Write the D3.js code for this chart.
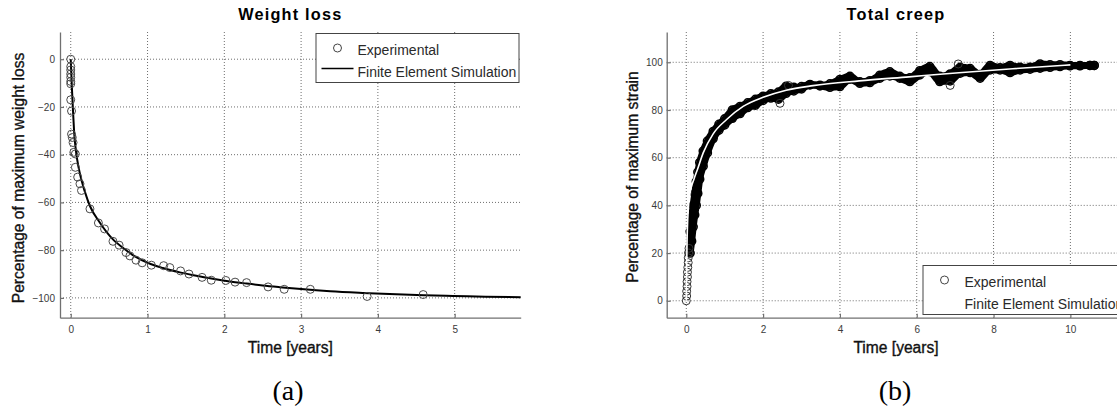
<!DOCTYPE html>
<html>
<head>
<meta charset="utf-8">
<script src="https://cdn.jsdelivr.net/npm/d3@7"></script>
<style>
body { margin: 0; background: #fff; }
svg { display: block; font-family: "Liberation Sans", Arial, sans-serif; }
</style>
</head>
<body>
<div id="chart"></div>
<script>
'use strict';

// ---------- (a) weight loss ----------
var weightExpT = [0, 0, 0, 0, 0, 0, 0, 0, 0.01, 0.01, 0.02, 0.03, 0.04, 0.06, 0.06, 0.09, 0.12, 0.14,
                  0.25, 0.36, 0.44, 0.55, 0.63, 0.72, 0.77, 0.85, 0.93, 1.05, 1.21, 1.29, 1.43, 1.54,
                  1.71, 1.83, 2.02, 2.14, 2.29, 2.57, 2.78, 3.12, 3.86, 4.59];
var weightExpV = [0, -3.1, -4.5, -6.2, -7.6, -9.3, -10.3, -17, -21.7, -31.4, -32.8, -34.9, -39, -39.7, -45.3, -49.4, -52.2, -55,
                  -62.7, -68.6, -71.1, -76.3, -77.9, -81, -82.4, -84.2, -85.3, -86.3, -86.5, -87.3, -88.7, -90,
                  -91.4, -92.6, -92.7, -93.4, -93.6, -95.4, -96.4, -96.4, -99.4, -98.6];
var weightSimT = [0, 0.015, 0.03, 0.045, 0.07, 0.1, 0.143, 0.216, 0.25, 0.38, 0.55, 0.7, 0.83, 1.04, 1.2,
                  1.42, 1.6, 1.85, 2.05, 2.29, 2.5, 2.72, 3.0, 3.38, 3.8, 4.24, 4.6, 4.98, 5.4, 5.86];
var weightSimV = [0, -12, -22, -31, -39, -45, -51, -58.6, -61.5, -68.5, -75.5, -79.5, -82.5, -85.8, -87.5,
                  -89.3, -90.5, -92, -93, -94, -94.8, -95.5, -96.3, -97.2, -97.9, -98.5, -98.9, -99.2, -99.5, -99.7];
var weightTicksX = [0, 1, 2, 3, 4, 5];
var weightTicksY = [-100, -80, -60, -40, -20, 0];

// ---------- (b) total creep ----------
var creepStartT = [0, 0.01, 0.01, 0.02, 0.02, 0.03, 0.03, 0.04, 0.05, 0.05, 0.06, 0.07];
var creepStartV = [0, 2, 4, 6, 8, 10, 12, 14, 16, 18, 20, 22];
var creepBandT  = [0.1, 0.14, 0.18, 0.22, 0.26, 0.3, 0.35, 0.44, 0.55, 0.7, 0.85, 1.0, 1.2, 1.4, 1.6, 1.8, 2.0,
                   2.2, 2.4, 2.6, 2.8, 3.0, 3.22, 3.48, 3.74, 4.0, 4.26, 4.52, 4.78, 5.04, 5.3, 5.56, 5.82, 6.08,
                   6.34, 6.6, 6.87, 7.13, 7.39, 7.65, 7.91, 8.17, 8.43, 8.69, 8.95, 9.21, 9.47, 9.73, 9.99,
                   10.25, 10.51, 10.62];
var creepBandHi = [29, 35, 40, 45, 50, 54, 58, 62.8, 67, 71, 74, 76.3, 80, 81.5, 83, 84.5, 85.8,
                   86.8, 87.5, 90, 89.5, 89.8, 90.7, 90.4, 91.0, 92.8, 94.1, 91.8, 92.3, 94.6, 96.0, 94.1, 93.5, 96.5,
                   98.2, 94.1, 95.1, 97.9, 97.4, 94.9, 98.7, 97.7, 98.7, 97.9, 97.9, 99.3, 99.0, 99.0, 98.7,
                   98.7, 98.7, 98.7];
var creepBandLo = [20, 25, 31, 36, 40, 45, 51, 56.4, 62, 68, 71.5, 73.7, 76.5, 78.5, 81, 82, 84,
                   85, 84.5, 87, 88, 88.8, 90.5, 90.1, 89.5, 89.8, 92.9, 91.2, 91.5, 93.3, 94.3, 93.3, 91.9, 94.7,
                   96.1, 91.9, 92.2, 95.4, 95.7, 93.3, 96.8, 96.8, 95.7, 96.8, 97.1, 97.5, 97.9, 98.2, 98.5,
                   98.5, 98.7, 98.7];
var creepOutT = [2.44, 2.66, 6.87, 7.08];
var creepOutV = [82.8, 90.3, 90.3, 99.3];
var creepSimT = [0, 0.01, 0.02, 0.04, 0.07, 0.12, 0.2, 0.3, 0.44, 0.7, 1.05, 1.48, 2.0, 2.6, 3.3,
                 4.5, 5.8, 7.1, 8.5, 10.0];
var creepSimV = [0, 15, 25, 35, 42, 47, 51, 55.5, 62, 70, 76, 81.5, 85.3, 88.3, 90.2,
                 92.2, 93.9, 95.6, 97.3, 98.9];
var creepTicksX = [0, 2, 4, 6, 8, 10];
var creepTicksY = [0, 20, 40, 60, 80, 100];

var legendNames = ['Experimental', 'Finite Element Simulation'];

function pairs(ts, vs) {
    return ts.map(function(t, i) { return {t: t, v: vs[i]}; });
}

var svg = d3.select('#chart').append('svg')
    .attr('width', 1117)
    .attr('height', 408);

function drawFrame(p)
{
    var x = d3.scaleLinear().domain(p.xDomain).range([p.left, p.right]);
    var y = d3.scaleLinear().domain(p.yDomain).range([p.bottom, p.top]);
    var g = svg.append('g');

    // dotted grid
    g.append('g').selectAll('line').data(p.ticksX).enter().append('line')
        .attr('x1', function(d) { return x(d); }).attr('x2', function(d) { return x(d); })
        .attr('y1', p.top).attr('y2', p.bottom)
        .attr('stroke', '#6e6e6e').attr('stroke-dasharray', '1,2');
    g.append('g').selectAll('line').data(p.ticksY).enter().append('line')
        .attr('y1', function(d) { return y(d); }).attr('y2', function(d) { return y(d); })
        .attr('x1', p.left).attr('x2', p.right)
        .attr('stroke', '#6e6e6e').attr('stroke-dasharray', '1,2');

    return {x: x, y: y, g: g};
}

function drawAxes(f, p)
{
    var fmt = d3.format('d');
    var ax = f.g.append('g')
        .attr('transform', 'translate(0,' + p.bottom + ')')
        .call(d3.axisBottom(f.x).tickValues(p.ticksX).tickFormat(fmt)
            .tickSizeInner(-4).tickSizeOuter(0).tickPadding(8));
    var ay = f.g.append('g')
        .attr('transform', 'translate(' + p.left + ',0)')
        .call(d3.axisLeft(f.y).tickValues(p.ticksY).tickFormat(fmt)
            .tickSizeInner(-4).tickSizeOuter(0).tickPadding(p.yPad));

    [ax, ay].forEach(function(a) {
        a.attr('font-family', null).attr('font-size', null);
        a.select('.domain').attr('stroke', '#707070').attr('stroke-width', 1.3);
        a.selectAll('.tick line').attr('stroke', '#707070').attr('stroke-width', 1.2);
        a.selectAll('.tick text').attr('fill', '#3a3a3a').style('font-size', '10px');
    });

    var cx = (p.left + p.right) / 2;
    f.g.append('text')
        .attr('x', cx).attr('y', 20)
        .attr('text-anchor', 'middle')
        .style('font-size', '16.3px').style('font-weight', 'bold').style('letter-spacing', '1.2px')
        .text(p.title);

    f.g.append('text')
        .attr('x', cx).attr('y', 353)
        .attr('text-anchor', 'middle')
        .attr('fill', '#111').attr('stroke', '#111').attr('stroke-width', 0.35)
        .style('font-size', '15.6px')
        .text('Time [years]');

    f.g.append('text')
        .attr('transform', 'translate(' + p.yLabelX + ',' + p.yLabelY + ') rotate(-90)')
        .attr('text-anchor', 'middle')
        .attr('fill', '#111').attr('stroke', '#111').attr('stroke-width', 0.35)
        .style('font-size', '15.6px')
        .text(p.yLabel);

    svg.append('text')
        .attr('x', p.tagX).attr('y', 400)
        .attr('text-anchor', 'middle')
        .style('font-family', '"Liberation Serif", "Times New Roman", serif')
        .style('font-size', '28px')
        .text(p.tag);
}

function drawLegend(p, lineColor)
{
    var lg = svg.append('g').attr('transform', 'translate(' + p.lx + ',' + p.ly + ')');
    lg.append('rect')
        .attr('width', 203).attr('height', 49)
        .attr('fill', '#fff').attr('stroke', '#444').attr('stroke-width', 1);
    lg.append('circle')
        .attr('cx', 21.5).attr('cy', 14.5).attr('r', 4)
        .attr('fill', 'none').attr('stroke', '#444').attr('stroke-width', 1);
    lg.append('line')
        .attr('x1', 5.5).attr('x2', 37.5).attr('y1', 35).attr('y2', 35)
        .attr('stroke', lineColor).attr('stroke-width', 1.6);
    lg.selectAll('text.item').data(legendNames).enter().append('text')
        .attr('class', 'item')
        .attr('x', 41.5).attr('y', function(d, i) { return 21 + i * 22; })
        .attr('fill', '#2a2a2a')
        .style('font-size', '14px')
        .text(function(d) { return d; });
}

// ---------------- panel (a) ----------------
var pa = {
    left: 60, right: 520.7, top: 32, bottom: 317.7,
    xDomain: [-0.14, 5.86], yDomain: [-108.3, 11.4],
    ticksX: weightTicksX, ticksY: weightTicksY, yPad: 5,
    title: 'Weight loss', yLabel: 'Percentage of maximum weight loss',
    yLabelX: 24, yLabelY: 178, tag: '(a)', tagX: 288,
    lx: 316, ly: 33.5
};
var fa = drawFrame(pa);

var simLineA = d3.line()
    .curve(d3.curveMonotoneX)
    .x(function(d) { return fa.x(d.t); })
    .y(function(d) { return fa.y(d.v); });

fa.g.append('path')
    .datum(pairs(weightSimT, weightSimV))
    .attr('d', simLineA)
    .attr('fill', 'none').attr('stroke', '#000').attr('stroke-width', 2);

fa.g.append('g').selectAll('circle')
    .data(pairs(weightExpT, weightExpV))
    .enter().append('circle')
    .attr('cx', function(d) { return fa.x(d.t); })
    .attr('cy', function(d) { return fa.y(d.v); })
    .attr('r', 4)
    .attr('fill', 'none').attr('stroke', '#4a4a4a').attr('stroke-width', 1);

drawAxes(fa, pa);
drawLegend(pa, '#000');

// ---------------- panel (b) ----------------
var pb = {
    left: 666.7, right: 1125.3, top: 32, bottom: 317.7,
    xDomain: [-0.51, 11.43], yDomain: [-7.1, 112.7],
    ticksX: creepTicksX, ticksY: creepTicksY, yPad: 4,
    title: 'Total creep', yLabel: 'Percentage of maximum strain',
    yLabelX: 637.5, yLabelY: 177, tag: '(b)', tagX: 895,
    lx: 923, ly: 265.5
};
var fb = drawFrame(pb);

var band = creepBandT.map(function(t, i) { return {t: t, lo: creepBandLo[i], hi: creepBandHi[i]}; });

var bandArea = d3.area()
    .curve(d3.curveMonotoneX)
    .x(function(d) { return fb.x(d.t); })
    .y0(function(d) { return fb.y(d.lo); })
    .y1(function(d) { return fb.y(d.hi); });

fb.g.append('path')
    .datum(band)
    .attr('d', bandArea)
    .attr('fill', '#000').attr('stroke', '#000')
    .attr('stroke-width', 7).attr('stroke-linejoin', 'round');

var bandPts = band.map(function(d) { return {t: d.t, v: d.lo}; })
    .concat(band.map(function(d) { return {t: d.t, v: d.hi}; }));

fb.g.append('g').selectAll('circle')
    .data(bandPts)
    .enter().append('circle')
    .attr('cx', function(d) { return fb.x(d.t); })
    .attr('cy', function(d) { return fb.y(d.v); })
    .attr('r', 4)
    .attr('fill', 'none').attr('stroke', '#000').attr('stroke-width', 1.5);

fb.g.append('g').selectAll('circle')
    .data(pairs(creepStartT, creepStartV).concat(pairs(creepOutT, creepOutV)))
    .enter().append('circle')
    .attr('cx', function(d) { return fb.x(d.t); })
    .attr('cy', function(d) { return fb.y(d.v); })
    .attr('r', 4)
    .attr('fill', 'none').attr('stroke', '#333').attr('stroke-width', 1);

var simLineB = d3.line()
    .curve(d3.curveMonotoneX)
    .x(function(d) { return fb.x(d.t); })
    .y(function(d) { return fb.y(d.v); });

fb.g.append('path')
    .datum(pairs(creepSimT, creepSimV))
    .attr('d', simLineB)
    .attr('fill', 'none').attr('stroke', '#fff').attr('stroke-width', 1.6);

drawAxes(fb, pb);
drawLegend(pb, '#fff');
</script>
</body>
</html>
